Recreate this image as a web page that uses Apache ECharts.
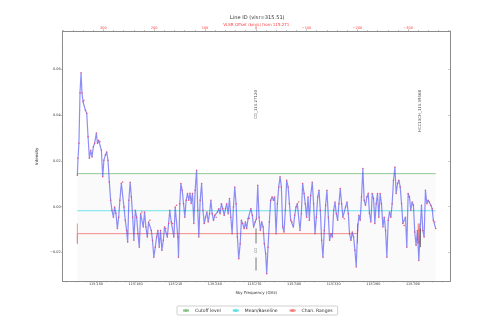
<!DOCTYPE html>
<html>
<head>
<meta charset="utf-8">
<script src="https://cdn.jsdelivr.net/npm/echarts@6/dist/echarts.min.js"></script>
<style>
html, body { margin: 0; padding: 0; background: #fff; }
#chart { width: 498px; height: 332px; }
</style>
</head>
<body>
<div id="chart"></div>
<script>
// Axis extents
const FREQ_MIN = 115.1248, FREQ_MAX = 115.4181;
const INT_MIN = -0.0327, INT_MAX = 0.0767;
const REST_FREQ = 115.271;
const C_KMS = 299792.458;

// Tick labels
const freqTicks = [115.150, 115.180, 115.210, 115.240, 115.270, 115.300, 115.330, 115.360, 115.390];
const intensityTicks = [-0.02, 0.00, 0.02, 0.04, 0.06];
const velocityTicks = [-300, -200, -100, 0, 100, 200, 300];

// Spectrum (GHz, intensity)
const frequencies = [
  115.1359, 115.1364, 115.1371, 115.1379, 115.1387, 115.1394, 115.1402, 115.1409, 115.1420, 115.1430,
  115.1440, 115.1450, 115.1460, 115.1470, 115.1480, 115.1490, 115.1503, 115.1511, 115.1520, 115.1530,
  115.1541, 115.1551, 115.1560, 115.1571, 115.1581, 115.1591, 115.1601, 115.1611, 115.1621, 115.1632,
  115.1641, 115.1651, 115.1662, 115.1672, 115.1681, 115.1692, 115.1702, 115.1712, 115.1722, 115.1732,
  115.1740, 115.1749, 115.1759, 115.1768, 115.1778, 115.1787, 115.1798, 115.1808, 115.1818, 115.1828,
  115.1838, 115.1848, 115.1858, 115.1868, 115.1878, 115.1889, 115.1898, 115.1908, 115.1919, 115.1928,
  115.1938, 115.1949, 115.1959, 115.1969, 115.1979, 115.1989, 115.1999, 115.2010, 115.2019, 115.2029,
  115.2040, 115.2050, 115.2059, 115.2070, 115.2080, 115.2090, 115.2100, 115.2110, 115.2120, 115.2125,
  115.2135, 115.2143, 115.2153, 115.2163, 115.2173, 115.2183, 115.2193, 115.2203, 115.2212, 115.2221,
  115.2231, 115.2241, 115.2251, 115.2262, 115.2271, 115.2279, 115.2289, 115.2300, 115.2310, 115.2320,
  115.2330, 115.2340, 115.2350, 115.2360, 115.2370, 115.2380, 115.2390, 115.2400, 115.2410, 115.2420,
  115.2430, 115.2440, 115.2450, 115.2460, 115.2471, 115.2481, 115.2490, 115.2501, 115.2511, 115.2521,
  115.2531, 115.2541, 115.2551, 115.2561, 115.2571, 115.2581, 115.2592, 115.2601, 115.2611, 115.2622,
  115.2632, 115.2641, 115.2652, 115.2662, 115.2673, 115.2684, 115.2694, 115.2705, 115.2715, 115.2725,
  115.2735, 115.2745, 115.2755, 115.2766, 115.2775, 115.2785, 115.2793, 115.2803, 115.2813, 115.2823,
  115.2834, 115.2844, 115.2853, 115.2864, 115.2874, 115.2884, 115.2894, 115.2904, 115.2914, 115.2924,
  115.2934, 115.2944, 115.2955, 115.2965, 115.2975, 115.2985, 115.2995, 115.3005, 115.3015, 115.3025,
  115.3035, 115.3045, 115.3055, 115.3065, 115.3076, 115.3085, 115.3095, 115.3106, 115.3116, 115.3126,
  115.3138, 115.3148, 115.3159, 115.3169, 115.3179, 115.3189, 115.3199, 115.3209, 115.3219, 115.3229,
  115.3239, 115.3249, 115.3260, 115.3269, 115.3280, 115.3290, 115.3300, 115.3310, 115.3320, 115.3330,
  115.3340, 115.3350, 115.3360, 115.3370, 115.3380, 115.3390, 115.3401, 115.3411, 115.3420, 115.3431,
  115.3441, 115.3451, 115.3461, 115.3471, 115.3481, 115.3491, 115.3501, 115.3511, 115.3521, 115.3531,
  115.3541, 115.3552, 115.3562, 115.3571, 115.3582, 115.3592, 115.3602, 115.3612, 115.3622, 115.3632,
  115.3642, 115.3652, 115.3662, 115.3673, 115.3683, 115.3693, 115.3703, 115.3713, 115.3723, 115.3733,
  115.3743, 115.3753, 115.3764, 115.3773, 115.3784, 115.3794, 115.3804, 115.3814, 115.3824, 115.3834,
  115.3844, 115.3854, 115.3864, 115.3874, 115.3884, 115.3894, 115.3904, 115.3914, 115.3924, 115.3934,
  115.3945, 115.3955, 115.3965, 115.3975, 115.3985, 115.3995, 115.4006, 115.4015, 115.4025, 115.4036,
  115.4046, 115.4055, 115.4066, 115.4073
];
const intensities = [
  0.0137, 0.0211, 0.0277, 0.0496, 0.0585, 0.0496, 0.0458, 0.0465, 0.0421, 0.0408,
  0.0305, 0.0211, 0.0246, 0.0217, 0.0261, 0.0277, 0.0321, 0.0277, 0.0290, 0.0283,
  0.0246, 0.0130, 0.0203, 0.0225, 0.0239, 0.0203, 0.0108, 0.0028, -0.0016, -0.0046,
  -0.0002, -0.0029, -0.0095, -0.0046, 0.0028, 0.0102, 0.0108, -0.0002, -0.0060, -0.0104,
  -0.0155, 0.0028, 0.0106, 0.0042, -0.0046, -0.0147, -0.0016, -0.0046, -0.0118, -0.0177,
  -0.0031, -0.0024, -0.0089, -0.0024, -0.0089, -0.0133, -0.0067, -0.0060, -0.0104, -0.0147,
  -0.0221, -0.0177, -0.0133, -0.0104, -0.0177, -0.0104, -0.0191, -0.0147, -0.0089, -0.0096,
  -0.0133, -0.0074, -0.0016, -0.0067, -0.0074, -0.0133, -0.0002, 0.0006, -0.0133, -0.0221,
  0.0013, 0.0101, 0.0071, 0.0013, -0.0046, 0.0028, 0.0057, 0.0028, 0.0058, 0.0014,
  0.0057, -0.0074, 0.0071, 0.0159, -0.0016, -0.0133, 0.0028, 0.0101, -0.0016, -0.0074,
  -0.0046, -0.0024, -0.0067, -0.0031, 0.0028, -0.0031, -0.0060, -0.0038, -0.0046, -0.0024,
  -0.0009, -0.0031, 0.0013, -0.0009, -0.0038, -0.0009, 0.0013, -0.0031, 0.0035, -0.0046,
  -0.0118, -0.0002, 0.0086, 0.0013, -0.0133, -0.0228, -0.0162, -0.0060, -0.0074, -0.0096,
  -0.0067, -0.0096, -0.0053, -0.0051, -0.0009, -0.0038, -0.0089, -0.0067, -0.0053, 0.0093,
  -0.0046, -0.0104, -0.0067, -0.0089, -0.0162, -0.0206, -0.0293, -0.0177, -0.0067, 0.0028,
  0.0042, 0.0028, 0.0042, -0.0118, 0.0013, 0.0086, 0.0130, 0.0086, -0.0089, -0.0111,
  -0.0016, 0.0115, 0.0086, 0.0013, -0.0060, -0.0067, -0.0089, -0.0038, -0.0002, 0.0013,
  0.0020, -0.0104, -0.0031, 0.0101, 0.0057, 0.0013, -0.0046, 0.0042, -0.0060, 0.0049,
  0.0106, 0.0013, -0.0118, -0.0046, 0.0042, 0.0071, -0.0016, -0.0147, -0.0221, -0.0104,
  0.0006, 0.0071, -0.0046, -0.0147, -0.0118, -0.0133, -0.0016, 0.0020, -0.0031, -0.0060,
  0.0013, 0.0079, 0.0013, -0.0046, -0.0053, -0.0002, 0.0020, -0.0031, -0.0118, -0.0147,
  -0.0111, -0.0133, -0.0191, -0.0264, -0.0104, -0.0038, -0.0060, 0.0042, 0.0166, 0.0028,
  0.0006, 0.0042, 0.0058, -0.0029, -0.0067, 0.0057, 0.0035, -0.0074, 0.0013, 0.0057,
  -0.0046, 0.0057, 0.0013, -0.0089, -0.0046, -0.0104, -0.0221, -0.0060, -0.0024, -0.0046,
  0.0013, 0.0115, 0.0173, 0.0057, 0.0101, 0.0115, 0.0086, 0.0013, -0.0074, -0.0082,
  -0.0046, -0.0177, 0.0057, 0.0042, -0.0016, 0.0020, 0.0006, -0.0111, -0.0169, -0.0104,
  -0.0235, -0.0104, 0.0006, -0.0104, -0.0133, 0.0071, 0.0013, 0.0028, 0.0020, 0.0006,
  -0.0009, -0.0060, -0.0067, -0.0096
];

// Reference levels
const cutoffLevel = 0.0144;
const baselineLevel = -0.0018;
const chanRangeLevel = -0.0118;
const chanRangeCap = 0.0044;
const chanRanges = [[115.1359, 115.3481], [115.3940, 115.3948]];

// Line identifications
const lineIds = [
  { name: 'CO_115.27120', freq: 115.27120 },
  { name: 'HCC13CH_115.39568', freq: 115.39568 }
];
const lineIdLabelTop = 0.0509;
// short marker segments below the spectrum: [freq, from, to]
const lineMarks = [
  [115.27120, -0.0095, -0.0161],
  [115.27120, -0.0222, -0.0279],
  [115.39568, -0.0095, -0.0177]
];
const markTags = [{ name: 'CO', freq: 115.27120, level: -0.0192 }];

const FONT = 'DejaVu Sans';
const FRAME = '#8c8c8c';
const TEXT = '#333';
const RED = '#ff3b3b';

const PLOT = { left: 62.7, right: 450, top: 31, bottom: 281.5 };

function toVelocity(f) { return C_KMS * (REST_FREQ - f) / REST_FREQ; }
const VEL_LEFT = toVelocity(FREQ_MIN), VEL_RIGHT = toVelocity(FREQ_MAX);

function minorTicks(majors, ndiv, lo, hi) {
  const step = (majors[1] - majors[0]) / ndiv;
  const out = [];
  let start = majors[0];
  while (start - step >= lo) start -= step;
  for (let v = start; v <= hi + 1e-12; v += step) {
    const isMajor = majors.some(m => Math.abs(m - v) < step * 1e-3);
    if (!isMajor) out.push(+v.toFixed(8));
  }
  return out;
}

const freqMinor = minorTicks(freqTicks, 4, FREQ_MIN, FREQ_MAX);
const velMinor = minorTicks(velocityTicks, 5, VEL_RIGHT, VEL_LEFT);
const intMinor = minorTicks(intensityTicks, 4, INT_MIN, INT_MAX);

const minus = s => String(s).replace('-', '\u2212');
const fStart = frequencies[0], fEnd = frequencies[frequencies.length - 1];

function hiddenAxis(base, values, len, inside) {
  return Object.assign({}, base, {
    axisLine: { show: false, onZero: false },
    axisLabel: { show: false },
    splitLine: { show: false },
    axisTick: { show: true, inside: !!inside, length: len, customValues: values, lineStyle: { color: FRAME, width: 0.6 } }
  });
}

const bottomBase = { type: 'value', position: 'bottom', min: FREQ_MIN, max: FREQ_MAX };
const topBase = { type: 'value', position: 'top', min: VEL_RIGHT, max: VEL_LEFT, inverse: true };
const leftBase = { type: 'value', position: 'left', min: INT_MIN, max: INT_MAX };
const rightBase = { type: 'value', position: 'right', min: INT_MIN, max: INT_MAX };

const series = [];

// shading below the cutoff level and the cutoff line
series.push({
  type: 'line', name: 'Cutoff level', xAxisIndex: 0, yAxisIndex: 0,
  data: [[fStart, cutoffLevel], [fEnd, cutoffLevel]],
  symbol: 'none', silent: true, z: 2,
  lineStyle: { color: '#86c486', width: 0.9 },
  itemStyle: { color: '#86c486' },
  markArea: {
    silent: true,
    itemStyle: { color: 'rgba(0,0,0,0.02)' },
    label: { show: false },
    data: [[{ coord: [fStart, INT_MIN] }, { coord: [fEnd, cutoffLevel] }]]
  }
});

series.push({
  type: 'line', name: 'Mean/Baseline', xAxisIndex: 0, yAxisIndex: 0,
  data: [[fStart, baselineLevel], [fEnd, baselineLevel]],
  symbol: 'none', silent: true, z: 2,
  lineStyle: { color: '#5fe0e6', width: 0.9 },
  itemStyle: { color: '#5fe0e6' }
});

chanRanges.forEach(r => {
  series.push({
    type: 'line', name: 'Chan. Ranges', xAxisIndex: 0, yAxisIndex: 0,
    data: [
      [r[0], chanRangeLevel + chanRangeCap], [r[0], chanRangeLevel - chanRangeCap], [r[0], chanRangeLevel],
      [r[1], chanRangeLevel],
      [r[1], chanRangeLevel + chanRangeCap], [r[1], chanRangeLevel - chanRangeCap]
    ],
    symbol: 'none', silent: true, z: 2,
    lineStyle: { color: '#f28080', width: 0.9 },
    itemStyle: { color: '#f28080' }
  });
});

// spectrum
series.push({
  type: 'line', name: 'Spectrum', xAxisIndex: 0, yAxisIndex: 0,
  data: frequencies.map((f, i) => [f, intensities[i]]),
  symbol: 'circle', symbolSize: 1.5, showSymbol: true, showAllSymbol: true,
  silent: true, z: 4,
  itemStyle: { color: 'rgba(232,70,110,0.9)', borderWidth: 0 },
  lineStyle: { color: 'rgba(60,60,245,0.58)', width: 1.2 }
});

// marker segments
lineMarks.forEach((m, i) => {
  series.push({
    type: 'line', name: 'mark' + i, xAxisIndex: 0, yAxisIndex: 0,
    data: [[m[0], m[1]], [m[0], m[2]]],
    symbol: 'none', silent: true, z: 5,
    lineStyle: { color: '#555', width: 0.8 }
  });
});

// line ID labels
series.push({
  type: 'scatter', name: 'lineIds', xAxisIndex: 0, yAxisIndex: 0,
  data: lineIds.map(d => ({ value: [d.freq, lineIdLabelTop], name: d.name })),
  symbolSize: 1, itemStyle: { color: 'rgba(0,0,0,0)' }, silent: true, z: 6,
  label: {
    show: true, formatter: '{b}', rotate: 90, position: 'inside',
    align: 'right', verticalAlign: 'middle',
    fontSize: 3.9, fontFamily: FONT, color: '#222'
  }
});
series.push({
  type: 'scatter', name: 'markTags', xAxisIndex: 0, yAxisIndex: 0,
  data: markTags.map(d => ({ value: [d.freq, d.level], name: d.name })),
  symbolSize: 1, itemStyle: { color: 'rgba(0,0,0,0)' }, silent: true, z: 6,
  label: {
    show: true, formatter: '{b}', rotate: 90, position: 'inside',
    align: 'center', verticalAlign: 'middle',
    fontSize: 3.6, fontFamily: FONT, color: '#444'
  }
});

const option = {
  animation: false,
  backgroundColor: '#fff',
  textStyle: { fontFamily: FONT },
  grid: {
    left: PLOT.left, top: PLOT.top, width: PLOT.right - PLOT.left, height: PLOT.bottom - PLOT.top,
    containLabel: false, outerBoundsMode: 'none'
  },
  graphic: [
    {
      type: 'text', x: (PLOT.left + PLOT.right) / 2 + 1, y: 17.5,
      style: { text: 'Line ID (vlsr=315.51)', fill: '#333', fontSize: 5.1, fontFamily: FONT, align: 'center', verticalAlign: 'middle' }
    },
    {
      type: 'text', x: (PLOT.left + PLOT.right) / 2, y: 24.7,
      style: { text: 'VLSR Offset (km/s) from 115.271', fill: RED, fontSize: 4, fontFamily: FONT, align: 'center', verticalAlign: 'middle' }
    }
  ],
  legend: {
    data: ['Cutoff level', 'Mean/Baseline', 'Chan. Ranges'],
    left: 177, top: 306,
    padding: [2, 5], itemGap: 11, itemWidth: 6, itemHeight: 4,
    borderColor: '#c4c4c4', borderWidth: 0.8, borderRadius: 1,
    textStyle: { fontSize: 4.5, color: TEXT, fontFamily: FONT, padding: [0, 0, 0, 1] },
    selectedMode: false
  },
  xAxis: [
    Object.assign({}, bottomBase, {
      axisLine: { show: true, onZero: false, lineStyle: { color: FRAME, width: 1 } },
      axisTick: { show: true, length: 1.6, customValues: freqTicks, lineStyle: { color: FRAME, width: 0.6 } },
      axisLabel: { customValues: freqTicks, formatter: v => v.toFixed(3), fontSize: 3.4, color: TEXT, margin: 1.4, fontFamily: FONT },
      splitLine: { show: false },
      name: 'Sky Frequency (GHz)', nameLocation: 'middle', nameGap: 5.5,
      nameTextStyle: { fontSize: 4, color: TEXT, fontFamily: FONT }
    }),
    Object.assign({}, topBase, {
      axisLine: { show: true, onZero: false, lineStyle: { color: FRAME, width: 1 } },
      axisTick: { show: true, length: 1.6, customValues: velocityTicks, lineStyle: { color: FRAME, width: 0.6 } },
      axisLabel: { customValues: velocityTicks, formatter: v => minus(v), fontSize: 3.5, color: RED, margin: 1.3, fontFamily: FONT },
      splitLine: { show: false }
    }),
    hiddenAxis(bottomBase, freqMinor, 0.9),
    hiddenAxis(topBase, velMinor, 0.9)
  ],
  yAxis: [
    Object.assign({}, leftBase, {
      axisLine: { show: true, onZero: false, lineStyle: { color: FRAME, width: 1 } },
      axisTick: { show: true, length: 1.6, customValues: intensityTicks, lineStyle: { color: FRAME, width: 0.6 } },
      axisLabel: { customValues: intensityTicks, formatter: v => minus(v.toFixed(2)), fontSize: 3.5, color: TEXT, margin: 2, fontFamily: FONT },
      splitLine: { show: false },
      name: 'Intensity', nameLocation: 'middle', nameGap: 15.5,
      nameTextStyle: { fontSize: 4, color: TEXT, fontFamily: FONT }
    }),
    Object.assign({}, rightBase, {
      axisLine: { show: true, onZero: false, lineStyle: { color: FRAME, width: 1 } },
      axisTick: { show: true, inside: true, length: 1.6, customValues: intensityTicks, lineStyle: { color: FRAME, width: 0.6 } },
      axisLabel: { show: false },
      splitLine: { show: false }
    }),
    hiddenAxis(leftBase, intMinor, 0.9)
  ],
  series: series
};

const chart = echarts.init(document.getElementById('chart'), null, { renderer: 'canvas' });
chart.setOption(option);
</script>
</body>
</html>
